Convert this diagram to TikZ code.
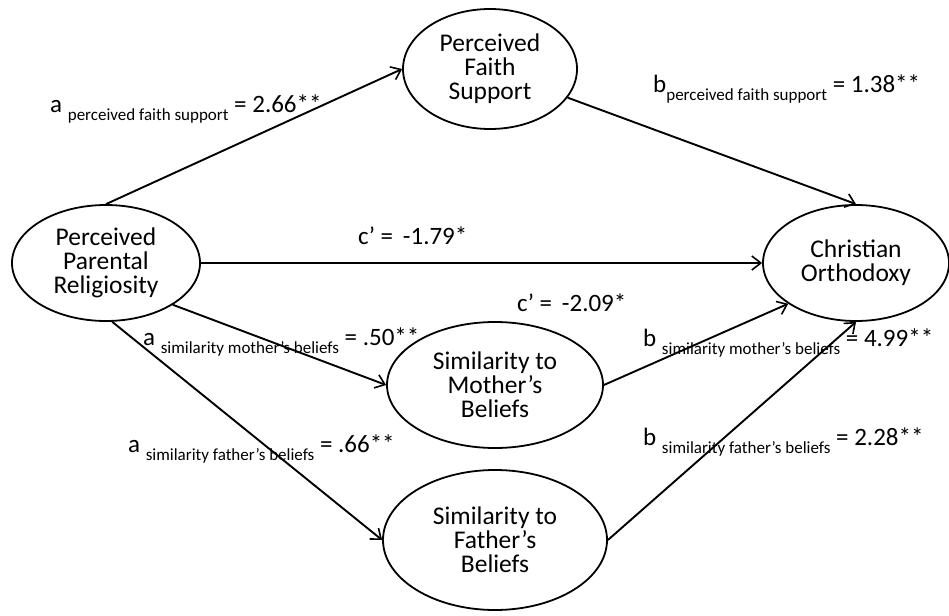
\documentclass[tikz,border=0pt]{standalone}
\usepackage{fontspec}
\setmainfont{Carlito}
\usepackage{tikz}
\usetikzlibrary{arrows.meta,shapes.geometric}

\newcommand{\subtxt}[1]{\raisebox{-8pt}{\fontsize{17}{17}\selectfont #1}}

\begin{document}
\begin{tikzpicture}[x=1pt,y=-1pt,
  var/.style={draw,ellipse,line width=1.8pt,inner sep=0pt,align=center,
    font=\fontsize{25.5}{24}\selectfont},
  path/.style={line width=1.9pt,-{Straight Barb[length=9pt,width=14pt,line width=1.6pt]}},
  coef/.style={anchor=base west,inner sep=0pt,font=\fontsize{25}{25}\selectfont}]
\useasboundingbox (0,0) rectangle (949,615);

\node[var,minimum width=188pt,minimum height=116pt] (par) at (106,263) {Perceived\\Parental\\Religiosity};
\node[var,minimum width=174pt,minimum height=120pt] (faith) at (490,69) {Perceived\\Faith\\Support};
\node[var,minimum width=186pt,minimum height=116pt] (orth) at (856,263) {Christian\\Orthodoxy};
\node[var,minimum width=216pt,minimum height=126pt] (mother) at (495,385) {Similarity to\\Mother’s\\Beliefs};
\node[var,minimum width=224pt,minimum height=140pt] (father) at (495,540) {Similarity to\\Father’s\\Beliefs};

\draw[path] (par.north) -- (faith.west);
\draw[path] (faith) -- (orth.north);
\draw[path] (par.east) -- (orth.west);
\draw[path] (par.-32) -- (mother.west);
\draw[path] (par.-84) -- (father.west);
\draw[path] (mother.east) -- (orth.211);
\draw[path] (father.east) -- (orth.south);

\node[coef] (apfs) at (50,113) {a \subtxt{perceived faith support} = 2.66**};
\node[coef] (bpfs) at (653,93) {b\subtxt{perceived faith support} = 1.38**};
\node[coef] (cdir) at (358,244) {c’ = \,-1.79*};
\node[coef] (cind) at (517,311) {c’ = \,-2.09*};
\node[coef] (amom) at (143,345) {a \subtxt{similarity mother’s beliefs} = .50**};
\node[coef] (adad) at (128,452) {a \subtxt{similarity father’s beliefs} = .66**};
\node[coef] (bmom) at (643,346) {b \subtxt{similarity mother’s beliefs} = 4.99**};
\node[coef] (bdad) at (643,445) {b \subtxt{similarity father’s beliefs} = 2.28**};
\end{tikzpicture}
\end{document}
